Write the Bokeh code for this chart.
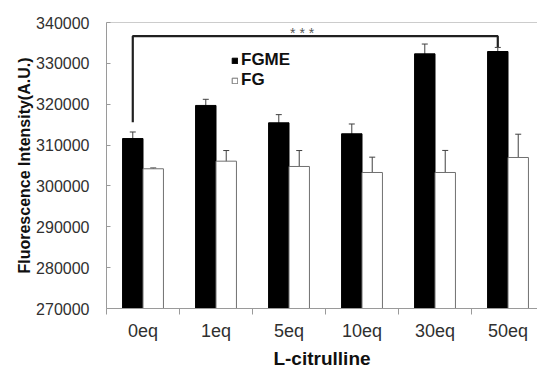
from bokeh.plotting import figure
from bokeh.models import (ColumnDataSource, FixedTicker, Legend, LegendItem, Whisker,
                          TeeHead, Span, Label, NumeralTickFormatter)
from bokeh.embed import file_html
from bokeh.resources import INLINE

categories = ["0eq", "1eq", "5eq", "10eq", "30eq", "50eq"]
fgme = [311600, 319700, 315450, 312760, 332330, 332900]
fgme_err = [1600, 1500, 2000, 2400, 2400, 1000]
fg = [304200, 306060, 304760, 303290, 303290, 306960]
fg_err = [200, 2600, 3900, 3750, 5400, 5700]
y_ticks = [270000, 280000, 290000, 300000, 310000, 320000, 330000, 340000]
sig_pair = ["0eq", "50eq"]
sig_level = 336650
sig_bottoms = [315600, 334000]
sig_text = "* * *"
x_title = "L-citrulline"
y_title = "Fluorescence Intensity(A.U.)"

FONT = "Liberation Sans"
AX = "#9a9a9a"
TXT = "#303030"
OFF = 0.14
W = 0.28

centers = [i + 0.5 for i in range(len(categories))]
x_fgme = [c - OFF for c in centers]
x_fg = [c + OFF for c in centers]
base = y_ticks[0]

src_a = ColumnDataSource(dict(x=x_fgme, top=fgme, up=[v + e for v, e in zip(fgme, fgme_err)],
                              lo=[v - e for v, e in zip(fgme, fgme_err)]))
src_b = ColumnDataSource(dict(x=x_fg, top=fg, up=[v + e for v, e in zip(fg, fg_err)],
                              lo=[v - e for v, e in zip(fg, fg_err)]))

p = figure(width=537, height=371, output_backend="svg", toolbar_location=None,
           x_range=(0, 5.904), y_range=(y_ticks[0], y_ticks[-1]),
           min_border_left=106, min_border_right=0, min_border_top=22, min_border_bottom=63)
p.outline_line_color = None
p.grid.visible = False
p.background_fill_color = "white"

ra = p.vbar(x="x", top="top", bottom=base, width=W, source=src_a,
            fill_color="black", line_color="black")
rb = p.vbar(x="x", top="top", bottom=base, width=W, source=src_b,
            fill_color="white", line_color="#707070", line_width=1)

for s in (src_a, src_b):
    w = Whisker(source=s, base="x", upper="up", lower="lo", line_color="#404040", line_width=1,
                upper_head=TeeHead(size=6, line_color="#404040", line_width=1),
                lower_head=TeeHead(size=6, line_color="#404040", line_width=1))
    p.add_layout(w)

# significance bracket
i0 = categories.index(sig_pair[0])
i1 = categories.index(sig_pair[1])
p.line([x_fgme[i0], x_fgme[i0], x_fgme[i1], x_fgme[i1]],
       [sig_bottoms[0], sig_level, sig_level, sig_bottoms[1]],
       line_color="#202020", line_width=2.2)
p.add_layout(Label(x=2.68, y=sig_level + 700, text=sig_text, text_align="center",
                   text_baseline="middle", text_font=FONT, text_font_size="14px",
                   text_color="#555555"))

p.add_layout(Span(location=y_ticks[-1], dimension="width", line_color=AX, line_width=1))

# axes
xa = p.xaxis[0]
xa.ticker = FixedTicker(ticks=centers, minor_ticks=list(range(len(categories) + 1)))
xa.major_label_overrides = {c: lab for c, lab in zip(centers, categories)}
xa.major_tick_line_color = None
xa.minor_tick_line_color = AX
xa.minor_tick_out = 6
xa.minor_tick_in = 0
xa.axis_line_color = AX
xa.major_label_text_font = FONT
xa.major_label_text_font_size = "18px"
xa.major_label_text_color = TXT
xa.major_label_standoff = 6
xa.axis_label = x_title
xa.axis_label_text_font = FONT
xa.axis_label_text_font_style = "bold"
xa.axis_label_text_font_size = "19px"
xa.axis_label_text_color = "#101010"
xa.axis_label_standoff = 4

ya = p.yaxis[0]
ya.ticker = FixedTicker(ticks=y_ticks)
ya.formatter = NumeralTickFormatter(format="0")
ya.major_tick_in = 4
ya.major_tick_out = 0
ya.major_tick_line_color = AX
ya.minor_tick_line_color = None
ya.axis_line_color = AX
ya.major_label_text_font = FONT
ya.major_label_text_font_size = "16px"
ya.major_label_text_color = TXT
ya.major_label_standoff = 17
ya.axis_label = y_title
ya.axis_label_text_font = FONT
ya.axis_label_text_font_style = "bold"
ya.axis_label_text_font_size = "16px"
ya.axis_label_text_color = "#101010"
ya.axis_label_standoff = 0

legend = Legend(items=[LegendItem(label="FGME", renderers=[ra]),
                       LegendItem(label="FG", renderers=[rb])],
                location=(125, 218), padding=0, margin=0, spacing=0,
                glyph_width=7, glyph_height=7, label_height=20, label_standoff=3,
                border_line_alpha=0, background_fill_alpha=0,
                label_text_font=FONT, label_text_font_style="bold",
                label_text_font_size="17px", label_text_color="#101010")
p.add_layout(legend, "center")

open("out.html", "w").write(file_html(p, INLINE))
